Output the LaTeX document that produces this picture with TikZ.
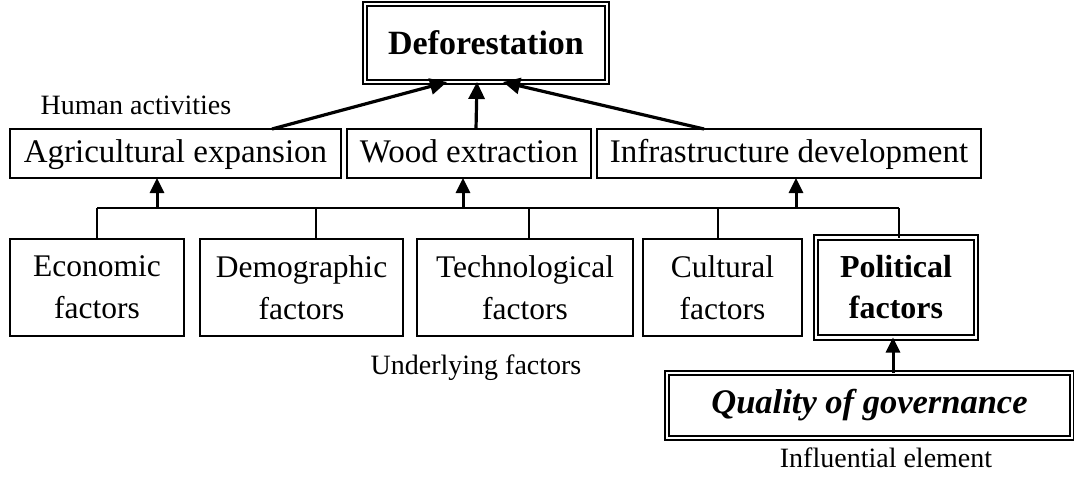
\documentclass[tikz,border=0pt]{standalone}
\usepackage{fontspec}
\setmainfont{Liberation Serif}
\usepackage{tikz}
\usetikzlibrary{positioning,arrows.meta}
\tikzset{
box/.style={draw, line width=1.4pt, inner sep=0pt, outer sep=0pt, align=center},
midbox/.style={box, minimum height=49pt, text height=23pt, text depth=5pt, font=\fontsize{33}{38}\selectfont},
factor/.style={box, minimum height=97pt, font=\fontsize{31.5}{42}\selectfont},
dbox/.style={draw, line width=2.2pt, double=white, double distance=2.5pt, inner sep=0pt, outer sep=0pt, align=center},
lbl/.style={font=\fontsize{28}{30}\selectfont},
bigarrow/.style={line width=3.2pt, -{Triangle[length=17pt,width=16pt]}},
uparrow/.style={line width=3pt, -{Triangle[length=15pt,width=14pt]}}
}

\begin{document}
\begin{tikzpicture}[x=1pt,y=-1pt]
\useasboundingbox (0,0) rectangle (1074,477);
\node(def)	[dbox, minimum width=242pt, minimum height=78pt, font=\fontsize{34}{38}\selectfont\bfseries]
	at (486,43) {Deforestation};
\node(agr)	[midbox, minimum width=331pt] at (175.5,153.5) {Agricultural expansion};
\node(wood)	[midbox, minimum width=244pt, right = 6pt of agr] {Wood extraction};
\node(inf)	[midbox, minimum width=384pt, right = 6pt of wood] {Infrastructure development};
\node(hum)	[lbl] at (136,105) {Human activities};

\node(eco)	[factor, minimum width=174pt] at (97,287.5) {Economic\\factors};
\node(dem)	[factor, minimum width=203pt, right = 16pt of eco] {Demographic\\factors};
\node(tec)	[factor, minimum width=216pt, right = 14pt of dem] {Technological\\factors};
\node(cul)	[factor, minimum width=159pt, right = 10pt of tec] {Cultural\\factors};
\node(pol)	[dbox, minimum width=160pt, minimum height=100pt, right = 14pt of cul,
	font=\fontsize{32}{41}\selectfont\bfseries] {Political\\factors};
\node(und)	[lbl] at (476,368) {Underlying factors};

\node(qog)	[dbox, minimum width=405pt, minimum height=65pt, font=\fontsize{34.5}{38}\selectfont\bfseries\itshape]
	at (869.5,405.5) {Quality of governance};
\node(inf2)	[lbl] at (886,458) {Influential element};

\draw[bigarrow] ([xshift=96.5pt]agr.north) -- ([xshift=-39pt]def.south);
\draw[bigarrow] ([xshift=7pt]wood.north) -- ([xshift=-9pt]def.south);
\draw[bigarrow] ([xshift=-85pt]inf.north) -- ([xshift=17pt]def.south);

\coordinate(bl) at (97,208);
\coordinate(br) at (899,208);
\draw[line width=1.6pt] (bl) -- (br);
\draw[line width=1.8pt] (eco.north) -- (eco.north |- bl);
\draw[line width=1.8pt] ([xshift=14.5pt]dem.north) -- ([xshift=14.5pt]dem.north |- bl);
\draw[line width=1.4pt] ([xshift=4pt]tec.north) -- ([xshift=4pt]tec.north |- bl);
\draw[line width=1.4pt] ([xshift=-4.5pt]cul.north) -- ([xshift=-4.5pt]cul.north |- bl);
\draw[line width=1.4pt] ([xshift=3pt]pol.north) -- ([xshift=3pt]pol.north |- br);

\coordinate(a1) at (157,208);
\coordinate(a2) at (463,208);
\coordinate(a3) at (796,208);
\draw[uparrow] (a1) -- (a1 |- agr.south);
\draw[uparrow] (a2) -- (a2 |- wood.south);
\draw[uparrow] (a3) -- (a3 |- inf.south);
\draw[uparrow] ([xshift=23.5pt]qog.north) -- ([xshift=23.5pt]qog.north |- pol.south);
\end{tikzpicture}
\end{document}
